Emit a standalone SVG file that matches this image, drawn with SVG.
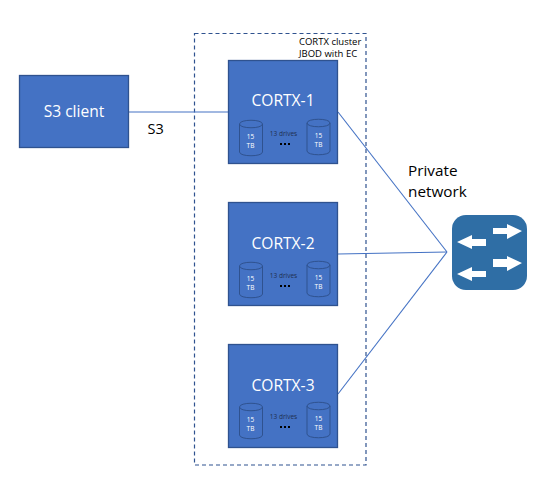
<svg xmlns="http://www.w3.org/2000/svg" width="551" height="488" viewBox="0 0 551 488">
<style>
text{font-family:"Open Sans","Noto Sans","Liberation Sans",sans-serif}
.box{fill:#4472c4;stroke:#2f528f;stroke-width:1.3}
.big{fill:#fff;font-size:15.600px;text-anchor:middle}
.cap{fill:#000;font-size:15.300px}
.small{fill:#000;font-size:9.500px}
.tb{fill:#fff;font-size:6.500px;text-anchor:middle}
.drv{fill:#1f2f4f;font-size:6.500px;text-anchor:middle}
.dots{fill:#000}
.cyl{fill:none;stroke:#2f528f;stroke-width:1}
.wire{fill:none;stroke:#4472c4;stroke-width:1.1}
.arr{fill:#fff}
</style>
<defs>
<g id="drive">
<path class="cyl" d="M0 4C0 -1 23 -1 23 4V32C23 37 0 37 0 32Z"/>
<path class="cyl" d="M0 4C0 9 23 9 23 4"/>
</g>
<g id="drives">
<use href="#drive" x="239.500" y="1"/>
<use href="#drive" x="307" y="0"/>
<text class="tb" x="250.500" y="20">15</text><text class="tb" x="250.500" y="29">TB</text>
<text class="tb" x="318.500" y="19">15</text><text class="tb" x="318.500" y="28">TB</text>
<text class="drv" x="283.500" y="17">13 drives</text>
<rect class="dots" x="280" y="24" width="2" height="2"/><rect class="dots" x="284" y="24" width="2" height="2"/><rect class="dots" x="288" y="24" width="2" height="2"/>
</g>
</defs>
<g id="cluster">
<rect x="194.500" y="33.500" width="171.500" height="431.500" fill="none" stroke="#2f528f" stroke-width="1.200" stroke-dasharray="4 3"/>
<text class="small" x="299" y="45">CORTX cluster</text>
<text class="small" x="299" y="57">JBOD with EC</text>
</g>
<g id="connectors">
<path class="wire" d="M129 112H228"/>
<path class="wire" d="M338 112L447 252"/>
<path class="wire" d="M338 254L447 252"/>
<path class="wire" d="M338 394L447 252"/>
</g>
<g id="s3-client">
<rect class="box" x="19.500" y="75.500" width="109" height="72"/>
<text class="big" x="74" y="117">S3 client</text>
</g>
<text id="s3-label" class="cap" x="147.500" y="134" style="font-size:14.500px">S3</text>
<g id="cortx-1">
<rect class="box" x="228.500" y="60.500" width="109" height="103"/>
<text class="big" x="283" y="106">CORTX-1</text>
<use href="#drives" y="119"/>
</g>
<g id="cortx-2">
<rect class="box" x="228.500" y="202.500" width="109" height="103"/>
<text class="big" x="283" y="248.500">CORTX-2</text>
<use href="#drives" y="261"/>
</g>
<g id="cortx-3">
<rect class="box" x="228.500" y="344.500" width="109" height="103"/>
<text class="big" x="283" y="391">CORTX-3</text>
<use href="#drives" y="402"/>
</g>
<g id="switch">
<rect x="452" y="215" width="75" height="75" rx="14" fill="#2f6ea5"/>
<path class="arr" d="M493 228H507V224L522 231L507 239V234H493Z"/>
<path class="arr" d="M486 239H472V235L457 242L472 249V246H486Z"/>
<path class="arr" d="M493 259H507V256L522 263L507 271V267H493Z"/>
<path class="arr" d="M486 271H472V267L457 274L472 281V277H486Z"/>
</g>
<g id="private-network">
<text class="cap" x="408" y="176">Private</text>
<text class="cap" x="408" y="197">network</text>
</g>
</svg>
